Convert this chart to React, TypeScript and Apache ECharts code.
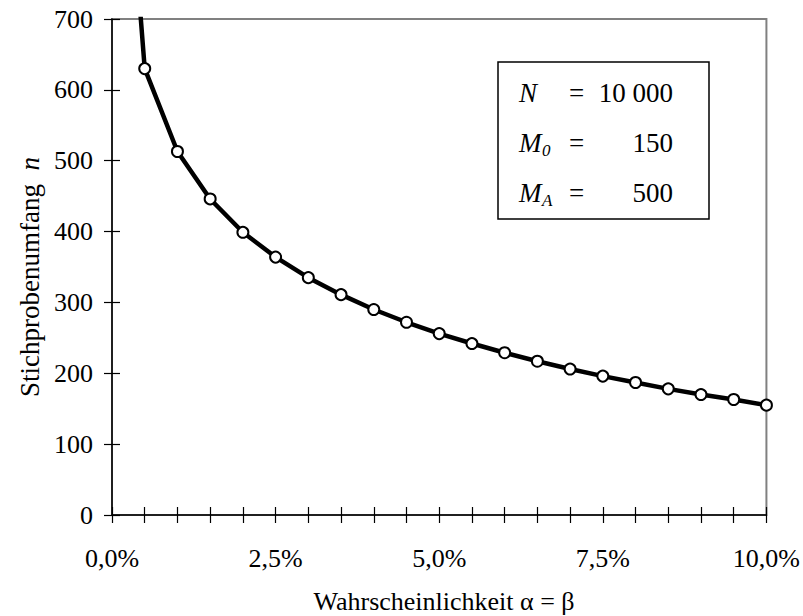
import React, { useEffect, useRef } from "react";
import * as echarts from "echarts";

// alpha = beta in percent
const alphaPct = [0.1, 0.5, 1.0, 1.5, 2.0, 2.5, 3.0, 3.5, 4.0, 4.5, 5.0, 5.5, 6.0, 6.5, 7.0, 7.5, 8.0, 8.5, 9.0, 9.5, 10.0];
// sample size n (first value lies above the visible range and is clipped)
const sampleSize = [1100, 630, 513, 446, 399, 364, 335, 311, 290, 272, 256, 242, 229, 217, 206, 196, 187, 178, 170, 163, 155];
const yTicks = [0, 100, 200, 300, 400, 500, 600, 700];
const xLabelValues = [0, 2.5, 5, 7.5, 10];
const boxRows = [
  { sym: "N", sub: "", val: "10 000" },
  { sym: "M", sub: "0", val: "150" },
  { sym: "M", sub: "A", val: "500" },
];

const FONT = "Liberation Serif";

export default function App() {
  const ref = useRef<HTMLDivElement>(null);
  useEffect(() => {
    if (!ref.current) return;
    const chart = echarts.init(ref.current, null, { renderer: "svg" });
    const gridLeft = 112, gridTop = 19, gridRight = 34, gridBottom = 101;

    const data = alphaPct.map((a, i) =>
      i === 0 ? { value: [a, sampleSize[i]], symbol: "none" } : { value: [a, sampleSize[i]] }
    );

    const xFmt = (v: number) => {
      const isLab = xLabelValues.some((l) => Math.abs(l - v) < 1e-6);
      return isLab ? v.toFixed(1).replace(".", ",") + "%" : "";
    };

    const txt = (size: number, italic = false) => ({
      fontFamily: FONT,
      fontSize: size,
      fontStyle: italic ? "italic" : "normal",
      fill: "#000",
    });

    const graphic: any[] = [];
    // legend box
    const bx = 498, by = 62, bw = 211, bh = 157;
    graphic.push({
      type: "rect",
      shape: { x: bx, y: by, width: bw, height: bh },
      style: { fill: "#fff", stroke: "#000", lineWidth: 1.5 },
      z: 10,
    });
    const rowY = [93, 143, 193];
    boxRows.forEach((r, i) => {
      graphic.push({
        type: "text",
        x: 519, y: rowY[i],
        style: { text: r.sym, ...txt(27, true), align: "left", verticalAlign: "middle" },
        z: 11,
      });
      if (r.sub) {
        graphic.push({
          type: "text",
          x: 542, y: rowY[i] + 7,
          style: { text: r.sub, ...txt(17, true), align: "left", verticalAlign: "middle" },
          z: 11,
        });
      }
      graphic.push({
        type: "text",
        x: 569, y: rowY[i],
        style: { text: "=", ...txt(27), align: "left", verticalAlign: "middle" },
        z: 11,
      });
      graphic.push({
        type: "text",
        x: 673, y: rowY[i],
        style: { text: r.val, ...txt(27), align: "right", verticalAlign: "middle" },
        z: 11,
      });
    });
    // y axis title
    graphic.push({
      type: "text",
      x: 30, y: 277,
      rotation: Math.PI / 2,
      style: {
        text: "Stichprobenumfang  {i|n}",
        ...txt(27),
        align: "center",
        verticalAlign: "middle",
        rich: { i: { fontStyle: "italic", fontSize: 27, fontFamily: FONT } },
      },
    });
    // x axis title
    graphic.push({
      type: "text",
      x: 444, y: 601,
      style: { text: "Wahrscheinlichkeit α = β", ...txt(26), align: "center", verticalAlign: "middle" },
    });

    const baseX = { type: "value", min: 0, max: 10, interval: 0.5, splitLine: { show: false } };
    const baseY = { type: "value", min: yTicks[0], max: yTicks[yTicks.length - 1], interval: 100, splitLine: { show: false } };

    chart.setOption({
      animation: false,
      backgroundColor: "#fff",
      textStyle: { fontFamily: FONT },
      grid: {
        left: gridLeft, top: gridTop, right: gridRight, bottom: gridBottom,
        show: true, borderColor: "#808080", borderWidth: 2, backgroundColor: "transparent",
      },
      xAxis: [
        {
          ...baseX,
          position: "bottom",
          axisLine: { show: true, lineStyle: { color: "#000", width: 1.5 } },
          axisTick: { show: true, inside: false, length: 8, lineStyle: { color: "#000", width: 1.2 } },
          axisLabel: { show: true, formatter: xFmt, margin: 30, fontSize: 26, color: "#000", fontFamily: FONT },
        },
        {
          ...baseX,
          position: "bottom",
          axisLine: { show: false },
          axisTick: { show: true, inside: true, length: 8, lineStyle: { color: "#000", width: 1.2 } },
          axisLabel: { show: false },
        },
      ],
      yAxis: [
        {
          ...baseY,
          position: "left",
          axisLine: { show: true, lineStyle: { color: "#000", width: 1.5 } },
          axisTick: { show: true, inside: false, length: 8, lineStyle: { color: "#000", width: 1.2 } },
          axisLabel: { show: true, margin: 19, fontSize: 26, color: "#000", fontFamily: FONT },
        },
        {
          ...baseY,
          position: "left",
          axisLine: { show: false },
          axisTick: { show: true, inside: true, length: 8, lineStyle: { color: "#000", width: 1.2 } },
          axisLabel: { show: false },
        },
      ],
      series: [
        {
          type: "line",
          xAxisIndex: 0,
          yAxisIndex: 0,
          data,
          clip: true,
          symbol: "circle",
          symbolSize: 11,
          showAllSymbol: true,
          lineStyle: { color: "#000", width: 4.5 },
          itemStyle: { color: "#fff", borderColor: "#000", borderWidth: 2 },
          z: 5,
        },
      ],
      graphic,
    });
    return () => chart.dispose();
  }, []);
  return (
    <div
      ref={ref}
      style={{ position: "fixed", left: 0, top: 0, width: 803, height: 616, background: "#fff" }}
    />
  );
}
